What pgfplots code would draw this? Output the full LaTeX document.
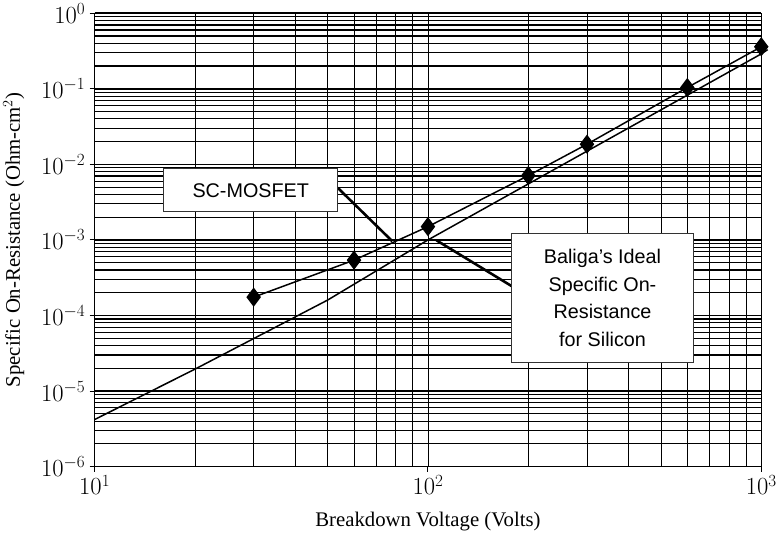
\documentclass[border=0pt]{standalone}
\usepackage{pgfplots}
\pgfplotsset{compat=1.18}
\usepackage{fontspec}
\setmainfont{Liberation Serif}
\newfontfamily\calloutfont{Liberation Sans}

\begin{document}
\begin{tikzpicture}[x=1bp,y=1bp]
  \begin{axis}[
    xmode=log, ymode=log,
    scale only axis,
    width=672bp, height=457bp,
    xmin=10, xmax=1000,
    ymin=1e-6, ymax=1,
    xtick={10,100,1000},
    ytick={1e-6,1e-5,1e-4,1e-3,1e-2,1e-1,1},
    grid=both,
    major x grid style={black, line width=0.9bp},
    minor x grid style={black, line width=0.7bp},
    major y grid style={black, line width=1.6bp},
    minor y grid style={black, line width=1.2bp},
    axis line style={black, line width=1.2bp},
    tick align=outside, tick pos=left,
    major tick length=5bp, minor tick length=0bp,
    tick style={black, line width=1bp},
    ticklabel style={font=\fontsize{25}{29}\selectfont},
    yticklabel style={xshift=-1bp},
    label style={font=\fontsize{21}{24}\selectfont},
    xlabel={Breakdown Voltage (Volts)},
    ylabel={Specific On-Resistance (Ohm-cm$^2$)},
    xlabel style={yshift=-10bp},
    ylabel style={yshift=10bp},
    clip=false,
  ]
    % Baliga's ideal line
    \addplot[black, line width=1.5bp] coordinates {
      (10, 4.2e-6) (20, 1.95e-5) (50, 1.6e-4) (100, 1.0e-3) (1000, 0.29) (1045, 0.33)
    };
    % SC-MOSFET
    \addplot[black, line width=1.5bp, mark=diamond*, mark size=8.5bp,
      mark options={fill=black}] coordinates {
      (30, 1.75e-4) (60, 5.4e-4) (100, 1.5e-3) (200, 7.1e-3)
      (300, 1.85e-2) (600, 0.104) (1000, 0.36)
    };
    % callouts
    \draw[black, line width=2.6bp] (axis cs:53.6,4.9e-3) -- (axis cs:78.2,9.6e-4);
    \draw[black, line width=2.6bp] (axis cs:106,9.9e-4) -- (axis cs:178,2.46e-4);
    \node[draw=black!80, line width=1bp, fill=white, minimum width=175bp,
      minimum height=43bp, inner sep=0pt,
      font=\calloutfont\fontsize{20}{23}\selectfont]
      at (axis cs:29.4,4.55e-3) {SC-MOSFET};
    \node[draw=black!80, line width=1bp, fill=white, minimum width=184bp,
      minimum height=130bp, inner sep=0pt, align=center,
      font=\calloutfont\fontsize{20}{28}\selectfont]
      at (axis cs:334,1.71e-4) {Baliga’s Ideal\\Specific On-\\Resistance\\for Silicon};
  \end{axis}
\end{tikzpicture}
\end{document}
